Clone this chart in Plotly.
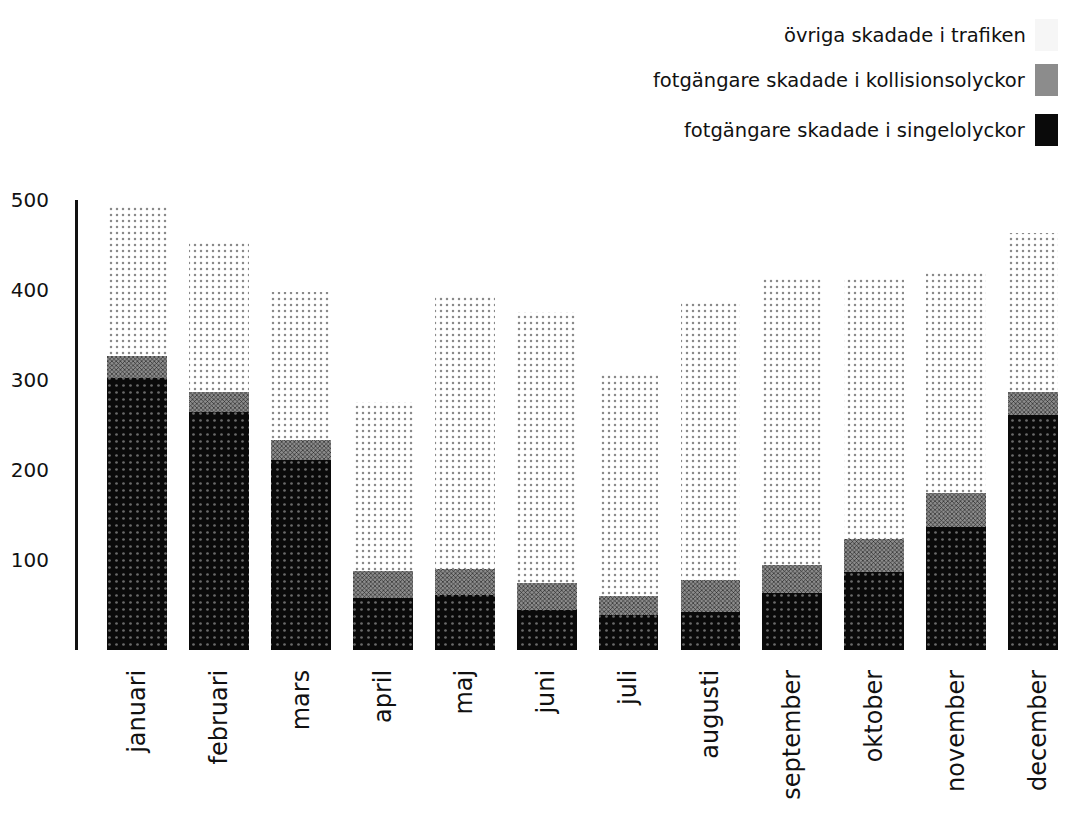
import plotly.graph_objects as go

months = ["januari", "februari", "mars", "april", "maj", "juni", "juli",
          "augusti", "september", "oktober", "november", "december"]
# cumulative tops
singel_top = [302, 264, 211, 58, 61, 44, 39, 42, 63, 87, 137, 261]
kollision_top = [327, 287, 233, 88, 90, 74, 60, 78, 94, 123, 174, 287]
total_top = [494, 453, 398, 276, 392, 376, 306, 386, 413, 415, 420, 463]

singel = singel_top
kollision = [k - s for k, s in zip(kollision_top, singel_top)]
ovriga = [t - k for t, k in zip(total_top, kollision_top)]

names = ["fotgängare skadade i singelolyckor",
         "fotgängare skadade i kollisionsolyckor",
         "övriga skadade i trafiken"]
y_ticks = [100, 200, 300, 400, 500]

FONT = "DejaVu Sans"
OFF = 8  # page body margin
W, H = 1066 - OFF, 816 - OFF
ML, MR, MT, MB = 78 - OFF, 0, 200 - OFF, 166
PW, PH = W - ML - MR, H - MT - MB

fig = go.Figure()
styles = [
    dict(bg="#0a0a0a", fg="#6a6a6a", shape=".", size=7, sol=0.12),
    dict(bg="#8c8c8c", fg="#1a1a1a", shape="x", size=3, sol=0.35),
    dict(bg="#ffffff", fg="#8a8a8a", shape=".", size=6, sol=0.14),
]
for vals, name, st in zip([singel, kollision, ovriga], names, styles):
    fig.add_trace(go.Bar(
        x=list(range(len(months))), y=vals, name=name, width=0.73,
        marker=dict(color=st["bg"], line=dict(width=0),
                    pattern=dict(shape=st["shape"], fgcolor=st["fg"], bgcolor=st["bg"],
                                 size=st["size"], solidity=st["sol"], fillmode="replace")),
        showlegend=False,
    ))

fig.update_layout(
    barmode="stack",
    width=W, height=H,
    margin=dict(l=ML, r=MR, t=MT, b=MB, pad=0, autoexpand=False),
    paper_bgcolor="white", plot_bgcolor="white",
    font=dict(family=FONT, color="#111"),
    xaxis=dict(
        tickmode="array", tickvals=list(range(len(months))), ticktext=months,
        tickangle=-90, range=[-0.72, 11.34], showgrid=False, zeroline=False,
        showline=False, ticks="", tickfont=dict(size=24, family=FONT, color="#111"),
        ticklabelstandoff=14,
    ),
    yaxis=dict(
        range=[0, 500], tickmode="array", tickvals=y_ticks,
        showgrid=False, zeroline=False, showline=True, linecolor="#111", linewidth=3,
        ticks="", tickfont=dict(size=20, family=FONT, color="#111"),
        ticklabelstandoff=22,
    ),
)

# legend drawn as text + swatch on the right (pixel positions in page coords)
leg_y = [35, 80, 130]
leg_names = [names[2], names[1], names[0]]
leg_fill = ["#f6f6f6", "#8c8c8c", "#0a0a0a"]


def px_x(px):
    return (px - OFF - ML) / PW


def px_y(py):
    return ((H - MB) - (py - OFF)) / PH


for yc, nm, fill in zip(leg_y, leg_names, leg_fill):
    fig.add_annotation(
        xref="paper", yref="paper", x=px_x(1028), y=px_y(yc),
        text=nm, showarrow=False, xanchor="right", yanchor="middle",
        font=dict(size=19.5, family=FONT, color="#111"),
    )
    fig.add_shape(
        type="rect", xref="paper", yref="paper",
        x0=px_x(1035), x1=px_x(1066), y0=px_y(yc + 16), y1=px_y(yc - 16),
        line=dict(width=0), fillcolor=fill,
    )

fig.write_html("out.html")
